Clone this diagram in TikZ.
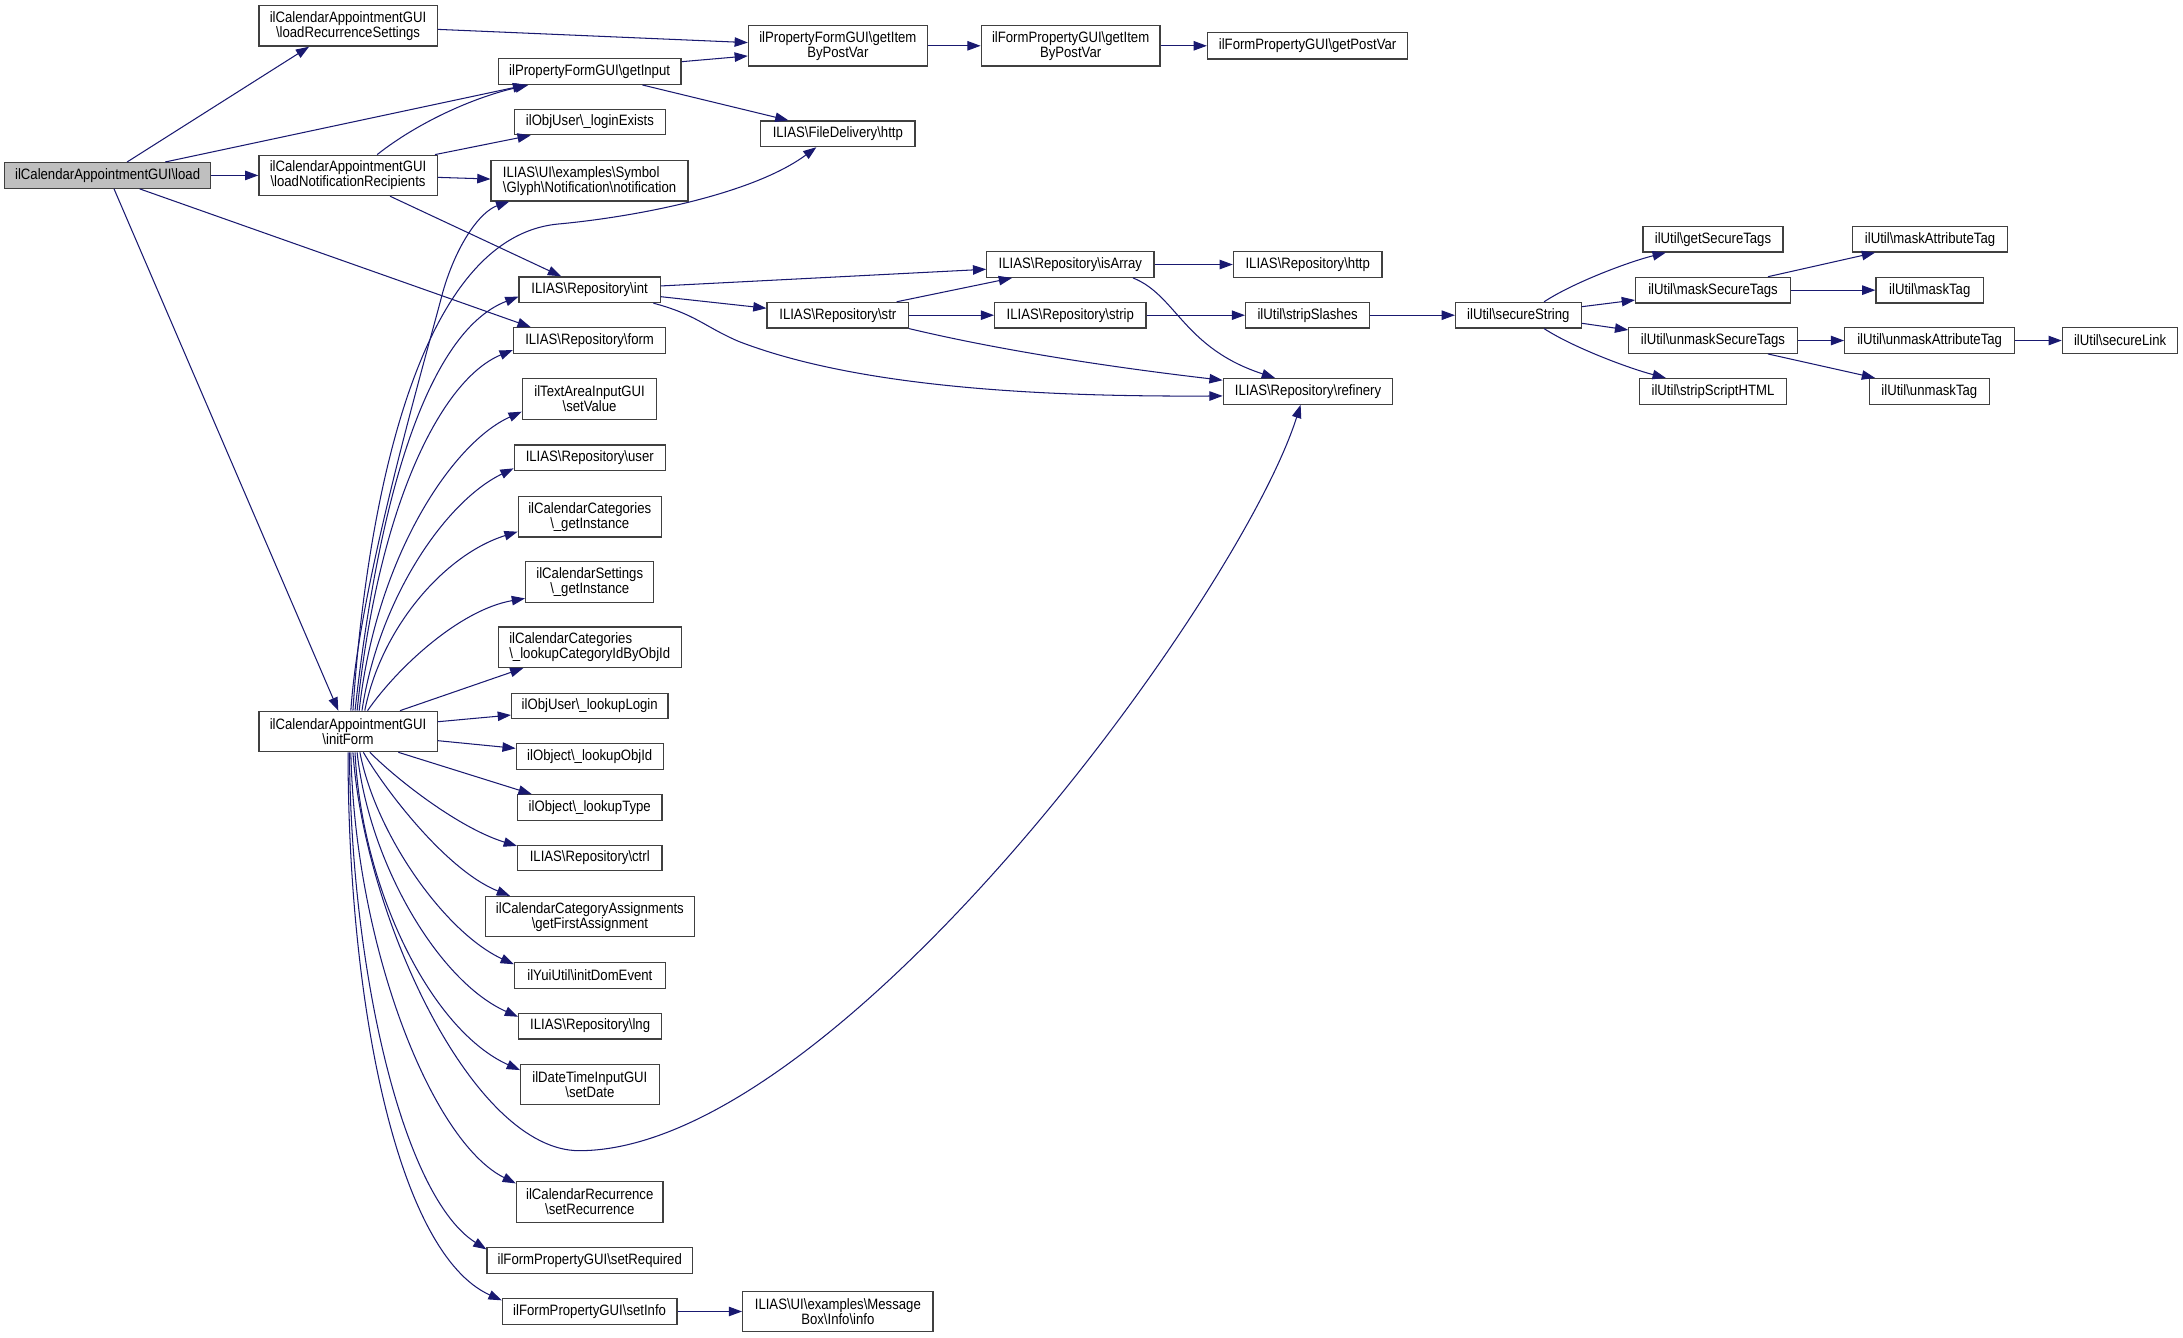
\documentclass[tikz,border=0pt]{standalone}
\usepackage{fontspec}
\setmainfont{Liberation Sans}[FakeStretch=0.875]
\usetikzlibrary{arrows.meta,calc}
\definecolor{edgec}{HTML}{191970}
\definecolor{rootfill}{HTML}{BFBFBF}
\newcommand{\BS}{\textbackslash}
\newcommand{\nfont}{\fontsize{10.8pt}{10.8pt}\selectfont}
\tikzset{
  nd/.style={draw=black!75, line width=0.9pt, inner sep=0pt, font=\nfont, align=center, minimum height=18.4pt, fill=white},
  two/.style={minimum height=29pt},
  root/.style={fill=rootfill},
  e/.style={draw=edgec, line width=0.75pt, -{Triangle[length=9.5pt,width=6.8pt]}}
}
\begin{document}
\begin{tikzpicture}[x=1pt,y=-1pt]
\useasboundingbox (0,0) rectangle (1568,960.4);
% column 0 / 1
\node[nd,root,minimum width=148pt] (load) at (77.3,126) {ilCalendarAppointmentGUI\BS load};
\node[nd,two,minimum width=128pt] (lrs) at (250,18.6) {ilCalendarAppointmentGUI\\\BS loadRecurrenceSettings};
\node[nd,two,minimum width=128pt] (lnr) at (250,126) {ilCalendarAppointmentGUI\\\BS loadNotificationRecipients};
\node[nd,two,minimum width=128pt] (initF) at (250,525.4) {ilCalendarAppointmentGUI\\\BS initForm};
% column 2
\node[nd,minimum width=131.4pt] (getInput) at (423.5,51.4) {ilPropertyFormGUI\BS getInput};
\node[nd,minimum width=108.7pt] (loginEx) at (423.7,87.6) {ilObjUser\BS\_loginExists};
\node[nd,two,align=left,minimum width=141.5pt] (notif) at (423.5,129.8) {ILIAS\BS UI\BS examples\BS Symbol\\\BS Glyph\BS Notification\BS notification};
\node[nd,minimum width=101.3pt] (int) at (423.5,208.1) {ILIAS\BS Repository\BS int};
\node[nd,minimum width=109.4pt] (form) at (423.5,244.6) {ILIAS\BS Repository\BS form};
\node[nd,two,minimum width=96.6pt] (setValue) at (423.5,286.6) {ilTextAreaInputGUI\\\BS setValue};
\node[nd,minimum width=108.5pt] (user) at (423.6,328.9) {ILIAS\BS Repository\BS user};
\node[nd,two,minimum width=102.7pt] (catInst) at (423.6,371.2) {ilCalendarCategories\\\BS\_getInstance};
\node[nd,two,minimum width=92.1pt] (setInst) at (423.6,418) {ilCalendarSettings\\\BS\_getInstance};
\node[nd,two,align=left,minimum width=131.4pt] (lookupCat) at (423.6,464.9) {ilCalendarCategories\\\BS\_lookupCategoryIdByObjId};
\node[nd,minimum width=112.3pt] (lookupLogin) at (423.6,507.1) {ilObjUser\BS\_lookupLogin};
\node[nd,minimum width=105.5pt] (lookupObjId) at (423.6,543.5) {ilObject\BS\_lookupObjId};
\node[nd,minimum width=103.7pt] (lookupType) at (423.6,580) {ilObject\BS\_lookupType};
\node[nd,minimum width=103.7pt] (ctrl) at (423.6,616.3) {ILIAS\BS Repository\BS ctrl};
\node[nd,two,minimum width=150.4pt] (firstAssign) at (423.7,658.4) {ilCalendarCategoryAssignments\\\BS getFirstAssignment};
\node[nd,minimum width=108.4pt] (initDom) at (423.7,700.6) {ilYuiUtil\BS initDomEvent};
\node[nd,minimum width=102.7pt] (lng) at (423.9,737) {ILIAS\BS Repository\BS lng};
\node[nd,two,minimum width=99.6pt] (setDate) at (423.7,778.9) {ilDateTimeInputGUI\\\BS setDate};
\node[nd,two,minimum width=105.3pt] (setRec) at (423.6,863.4) {ilCalendarRecurrence\\\BS setRecurrence};
\node[nd,minimum width=147.5pt] (setReq) at (423.6,905.4) {ilFormPropertyGUI\BS setRequired};
\node[nd,minimum width=125.4pt] (setInfo) at (423.5,942) {ilFormPropertyGUI\BS setInfo};
% column 3
\node[nd,two,minimum width=136.7pt] (info) at (601.8,942) {ILIAS\BS UI\BS examples\BS Message\\Box\BS Info\BS info};
\node[nd,two,minimum width=128.4pt] (pfGet) at (601.8,32.9) {ilPropertyFormGUI\BS getItem\\ByPostVar};
\node[nd,minimum width=111pt] (fdHttp) at (601.8,96.1) {ILIAS\BS FileDelivery\BS http};
\node[nd,minimum width=101.6pt] (str) at (601.8,226.4) {ILIAS\BS Repository\BS str};
% column 4
\node[nd,two,minimum width=128.4pt] (fpGet) at (769,32.9) {ilFormPropertyGUI\BS getItem\\ByPostVar};
\node[nd,minimum width=120pt] (isArray) at (768.8,190) {ILIAS\BS Repository\BS isArray};
\node[nd,minimum width=108.7pt] (strip) at (768.8,226.4) {ILIAS\BS Repository\BS strip};
% column 5
\node[nd,minimum width=143.8pt,minimum height=18.9pt] (gpv) at (939.2,32.9) {ilFormPropertyGUI\BS getPostVar};
\node[nd,minimum width=106.7pt] (repHttp) at (939.3,190) {ILIAS\BS Repository\BS http};
\node[nd,minimum width=89pt] (stripSl) at (939.2,226.4) {ilUtil\BS stripSlashes};
\node[nd,minimum width=121.7pt] (refinery) at (939.5,281.1) {ILIAS\BS Repository\BS refinery};
% column 6..9
\node[nd,minimum width=90.2pt] (secStr) at (1090.6,226.4) {ilUtil\BS secureString};
\node[nd,minimum width=100.7pt] (getSecTags) at (1230.4,171.8) {ilUtil\BS getSecureTags};
\node[nd,minimum width=111.2pt] (maskSecTags) at (1230.4,208.4) {ilUtil\BS maskSecureTags};
\node[nd,minimum width=120.9pt] (unmaskSecTags) at (1230.4,244.6) {ilUtil\BS unmaskSecureTags};
\node[nd,minimum width=105.6pt] (stripScript) at (1230.4,281.1) {ilUtil\BS stripScriptHTML};
\node[nd,minimum width=111.1pt] (maskAttr) at (1386.3,171.8) {ilUtil\BS maskAttributeTag};
\node[nd,minimum width=77.2pt] (maskTag) at (1386.1,208.4) {ilUtil\BS maskTag};
\node[nd,minimum width=122pt] (unmaskAttr) at (1386,244.6) {ilUtil\BS unmaskAttributeTag};
\node[nd,minimum width=86.3pt] (unmaskTag) at (1385.8,281.1) {ilUtil\BS unmaskTag};
\node[nd,minimum width=82.9pt] (secureLink) at (1522.8,244.6) {ilUtil\BS secureLink};

% ---- edges from load
\draw[e] ($(load.north)+(14,0)$) -- ($(lrs.south)+(-28,0)$);
\draw[e] ($(load.north)+(41.4,0)$) -- ($(getInput.south)+(-45.6,0)$);
\draw[e] (load.east) -- (lnr.west);
\draw[e] ($(load.south)+(23,0)$) -- ($(form.north)+(-42.3,0)$);
\draw[e] ($(load.south)+(4.6,0)$) -- ($(initF.north)+(-7,0)$);
% ---- column 1 edges
\draw[e] ($(lrs.east)+(0,2.5)$) -- ($(pfGet.west)+(0,-2.3)$);
\draw[e] ($(getInput.east)+(0,-7.1)$) -- ($(pfGet.west)+(0,7.3)$);
\draw[e] ($(getInput.south)+(38,0)$) -- ($(fdHttp.north)+(-35.5,0)$);
\draw[e] ($(lnr.north)+(20.9,0)$) .. controls (300,88) and (340,70) .. ($(getInput.south)+(-44,0)$);
\draw[e] ($(lnr.north east)+(-2,0)$) -- ($(loginEx.south)+(-42.5,0)$);
\draw[e] ($(lnr.east)+(0,1.4)$) -- ($(notif.west)+(0,-1.2)$);
\draw[e] ($(lnr.south)+(30.2,0)$) -- ($(int.north)+(-20.5,0)$);
\draw[e] (pfGet.east) -- (fpGet.west);
\draw[e] (fpGet.east) -- (gpv.west);
% ---- int / str / isArray
\draw[e] ($(int.east)+(0,-2.7)$) -- ($(isArray.west)+(0,3.4)$);
\draw[e] ($(int.east)+(0,5)$) -- ($(str.west)+(0,-5)$);
\draw[e] ($(int.south)+(45.8,0)$) .. controls (500,226) and (505,234) .. (530,245) .. controls (620,280) and (760,285) .. ($(refinery.west)+(0,3.3)$);
\draw[e] ($(str.north)+(42.3,0)$) -- ($(isArray.south)+(-41.9,0)$);
\draw[e] (str.east) -- (strip.west);
\draw[e] (str.south east) .. controls (720,252) and (800,264) .. ($(refinery.west)+(0,-8)$);
\draw[e] (isArray.east) -- (repHttp.west);
\draw[e] ($(isArray.south)+(45,0)$) .. controls (845,212) and (850,250) .. ($(refinery.north)+(-23.7,0)$);
\draw[e] (strip.east) -- (stripSl.west);
\draw[e] (stripSl.east) -- (secStr.west);
% ---- ilUtil
\draw[e] ($(secStr.north)+(18.5,0)$) .. controls (1130,203) and (1170,188) .. ($(getSecTags.south)+(-33.9,0)$);
\draw[e] ($(secStr.east)+(0,-6.1)$) -- ($(maskSecTags.west)+(0,7.1)$);
\draw[e] ($(secStr.east)+(0,5.8)$) -- ($(unmaskSecTags.west)+(0,-7.6)$);
\draw[e] ($(secStr.south)+(18.5,0)$) .. controls (1130,249.6) and (1170,264.6) .. ($(stripScript.north)+(-33.9,0)$);
\draw[e] ($(maskSecTags.north)+(39.5,0)$) -- ($(maskAttr.south)+(-39.5,0)$);
\draw[e] (maskSecTags.east) -- (maskTag.west);
\draw[e] (unmaskSecTags.east) -- (unmaskAttr.west);
\draw[e] ($(unmaskSecTags.south)+(39.5,0)$) -- ($(unmaskTag.north)+(-39,0)$);
\draw[e] (unmaskAttr.east) -- (secureLink.west);
\draw[e] (setInfo.east) -- (info.west);
% ---- initForm upward
\draw[e] ($(initF.north)+(2,0)$) .. controls (258,420) and (305,260) .. (318,210) .. controls (328,175) and (345,152) .. ($(notif.south west)+(13.5,0)$);
\draw[e] ($(initF.north)+(3.5,0)$) .. controls (262,380) and (295,172) .. (400,161) .. controls (455,156) and (540,140) .. ($(fdHttp.south)+(-15.4,0)$);
\draw[e] ($(initF.north)+(5,0)$) .. controls (275,330) and (315,235) .. ($(int.west)+(0,5)$);
\draw[e] ($(initF.north)+(6.5,0)$) .. controls (272,360) and (318,272) .. ($(form.west)+(0,6.8)$);
\draw[e] ($(initF.north)+(8,0)$) .. controls (270,400) and (325,318) .. ($(setValue.west)+(0,9.1)$);
\draw[e] ($(initF.north)+(10,0)$) .. controls (272,430) and (320,360) .. ($(user.west)+(0,7.5)$);
\draw[e] ($(initF.north)+(12,0)$) .. controls (274,450) and (320,398) .. ($(catInst.west)+(0,10.7)$);
\draw[e] ($(initF.north)+(14,0)$) .. controls (285,480) and (330,438) .. ($(setInst.west)+(0,11.8)$);
\draw[e] ($(initF.north)+(37.3,0)$) -- ($(lookupCat.south)+(-47.7,0)$);
% ---- initForm sideways
\draw[e] ($(initF.east)+(0,-7)$) -- ($(lookupLogin.west)+(0,6.5)$);
\draw[e] ($(initF.east)+(0,6.6)$) -- ($(lookupObjId.west)+(0,-6)$);
% ---- initForm downward
\draw[e] ($(initF.south)+(36.1,0)$) -- ($(lookupType.north)+(-41.7,0)$);
\draw[e] ($(initF.south)+(15.7,0)$) .. controls (285,560) and (330,595) .. ($(ctrl.west)+(0,-8.7)$);
\draw[e] ($(initF.south)+(11,0)$) .. controls (275,565) and (320,625) .. ($(firstAssign.north)+(-57.4,0)$);
\draw[e] ($(initF.south)+(8.5,0)$) .. controls (270,600) and (320,670) .. ($(initDom.west)+(0,-8)$);
\draw[e] ($(initF.south)+(6.5,0)$) .. controls (265,620) and (315,705) .. ($(lng.west)+(0,-6.7)$);
\draw[e] ($(initF.south)+(5,0)$) .. controls (260,640) and (310,740) .. ($(setDate.west)+(0,-10.3)$);
\draw[e] ($(initF.south)+(3.5,0)$) .. controls (262,660) and (340,826.5) .. (416,826.5) .. controls (600,826.5) and (890,430) .. ($(refinery.south)+(-5.3,0)$);
\draw[e] ($(initF.south)+(2,0)$) .. controls (255,680) and (310,820) .. ($(setRec.west)+(0,-13.4)$);
\draw[e] ($(initF.south)+(1,0)$) .. controls (252,700) and (290,860) .. ($(setReq.west)+(0,-8)$);
\draw[e] ($(initF.south)+(0,0)$) .. controls (250,720) and (285,900) .. ($(setInfo.west)+(0,-8)$);
\end{tikzpicture}
\end{document}
